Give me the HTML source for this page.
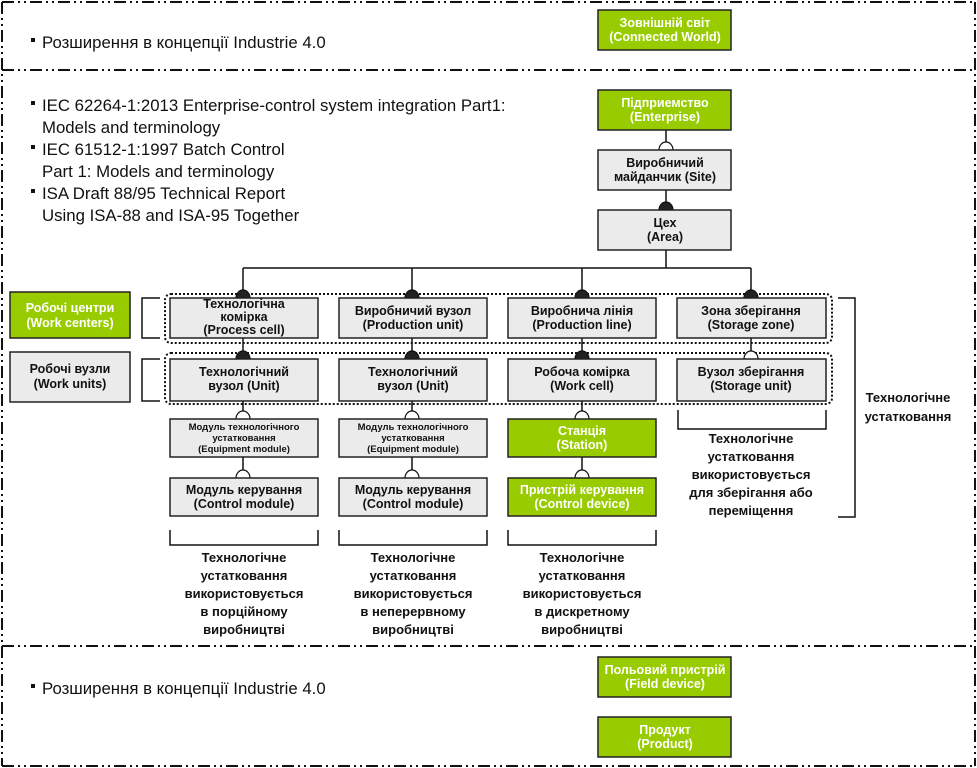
<!DOCTYPE html>
<html><head><meta charset="utf-8"><style>
body{margin:0;background:#fff}
svg{display:block}
text{font-family:"Liberation Sans Narrow","Liberation Sans","DejaVu Sans Condensed",sans-serif;fill:#111}
.b{font-size:12.5px;font-weight:bold;text-anchor:middle}
.w{fill:#fff}
.s{font-size:9.5px;font-weight:bold;text-anchor:middle}
.t{font-size:16.8px}
.n{font-size:13px;font-weight:bold;text-anchor:middle}
</style></head><body>
<svg width="977" height="768" viewBox="0 0 977 768" xmlns="http://www.w3.org/2000/svg">
<g stroke="#111" stroke-width="2" fill="none" stroke-dasharray="12 4 2 4 2 4">
<line x1="2" y1="2" x2="975" y2="2"/>
<line x1="2" y1="70" x2="975" y2="70"/>
<line x1="2" y1="646" x2="975" y2="646"/>
<line x1="2" y1="766" x2="975" y2="766"/>
<line x1="2" y1="2" x2="2" y2="766"/>
<line x1="975" y1="2" x2="975" y2="766"/>
</g>
<rect x="31" y="38" width="4" height="4" fill="#111"/><text x="42" y="48" class="t">Розширення в концепції Industrie 4.0</text>
<rect x="31" y="101" width="4" height="4" fill="#111"/><text x="42" y="111" class="t">IEC 62264-1:2013 Enterprise-control system integration Part1:</text>
<text x="42" y="133" class="t">Models and terminology</text>
<rect x="31" y="145" width="4" height="4" fill="#111"/><text x="42" y="155" class="t">IEC 61512-1:1997 Batch Control</text>
<text x="42" y="177" class="t">Part 1: Models and terminology</text>
<rect x="31" y="189" width="4" height="4" fill="#111"/><text x="42" y="199" class="t">ISA Draft 88/95 Technical Report</text>
<text x="42" y="221" class="t">Using ISA-88 and ISA-95 Together</text>
<rect x="31" y="684" width="4" height="4" fill="#111"/><text x="42" y="694" class="t">Розширення в концепції Industrie 4.0</text>
<g stroke="#111" stroke-width="1.5" fill="none">
<line x1="666" y1="130" x2="666" y2="150"/>
<line x1="666" y1="190" x2="666" y2="210"/>
<line x1="666" y1="250" x2="666" y2="268"/>
<line x1="243" y1="268" x2="751" y2="268"/>
<line x1="243" y1="268" x2="243" y2="298"/>
<line x1="412" y1="268" x2="412" y2="298"/>
<line x1="582" y1="268" x2="582" y2="298"/>
<line x1="751" y1="268" x2="751" y2="298"/>
<line x1="243" y1="338" x2="243" y2="359"/>
<line x1="412" y1="338" x2="412" y2="359"/>
<line x1="582" y1="338" x2="582" y2="359"/>
<line x1="751" y1="338" x2="751" y2="359"/>
<line x1="243" y1="401" x2="243" y2="478"/>
<line x1="412" y1="401" x2="412" y2="478"/>
<line x1="582" y1="401" x2="582" y2="478"/>
<polyline points="160,298 142,298 142,338 160,338"/>
<polyline points="160,359 142,359 142,401 160,401"/>
<polyline points="678,410 678,429 826,429 826,410"/>
<polyline points="838,298 855,298 855,517 838,517"/>
<polyline points="170,530 170,545 318,545 318,530"/>
<polyline points="339,530 339,545 487,545 487,530"/>
<polyline points="508,530 508,545 656,545 656,530"/>
</g>
<g stroke="#111" stroke-width="2" fill="none" stroke-dasharray="2 2">
<rect x="165" y="294" width="667" height="49" rx="6"/>
<rect x="165" y="353" width="667" height="51" rx="6"/>
</g>
<g fill="#222" stroke="#111" stroke-width="1.2">
<path d="M659,210 a7,8 0 0 1 14,0z"/>
<path d="M236,298 a7,8 0 0 1 14,0z"/>
<path d="M405,298 a7,8 0 0 1 14,0z"/>
<path d="M575,298 a7,8 0 0 1 14,0z"/>
<path d="M744,298 a7,8 0 0 1 14,0z"/>
<path d="M236,359 a7,8 0 0 1 14,0z"/>
<path d="M405,359 a7,8 0 0 1 14,0z"/>
<path d="M575,359 a7,8 0 0 1 14,0z"/>
</g>
<g fill="#fff" stroke="#111" stroke-width="1.2">
<path d="M659,150 a7,8 0 0 1 14,0"/>
<path d="M744,359 a7,8 0 0 1 14,0"/>
<path d="M236,419 a7,8 0 0 1 14,0"/>
<path d="M405,419 a7,8 0 0 1 14,0"/>
<path d="M575,419 a7,8 0 0 1 14,0"/>
<path d="M236,478 a7,8 0 0 1 14,0"/>
<path d="M405,478 a7,8 0 0 1 14,0"/>
<path d="M575,478 a7,8 0 0 1 14,0"/>
</g>
<g stroke="#222" stroke-width="1.5">
<rect x="598" y="10" width="133" height="40" fill="#99cc00"/>
<rect x="598" y="90" width="133" height="40" fill="#99cc00"/>
<rect x="598" y="150" width="133" height="40" fill="#ebebeb"/>
<rect x="598" y="210" width="133" height="40" fill="#ebebeb"/>
<rect x="10" y="292" width="120" height="46" fill="#99cc00"/>
<rect x="10" y="352" width="120" height="50" fill="#ebebeb"/>
<rect x="170" y="298" width="148" height="40" fill="#ebebeb"/>
<rect x="339" y="298" width="148" height="40" fill="#ebebeb"/>
<rect x="508" y="298" width="148" height="40" fill="#ebebeb"/>
<rect x="677" y="298" width="149" height="40" fill="#ebebeb"/>
<rect x="170" y="359" width="148" height="42" fill="#ebebeb"/>
<rect x="339" y="359" width="148" height="42" fill="#ebebeb"/>
<rect x="508" y="359" width="148" height="42" fill="#ebebeb"/>
<rect x="677" y="359" width="149" height="42" fill="#ebebeb"/>
<rect x="170" y="419" width="148" height="38" fill="#ebebeb"/>
<rect x="339" y="419" width="148" height="38" fill="#ebebeb"/>
<rect x="508" y="419" width="148" height="38" fill="#99cc00"/>
<rect x="170" y="478" width="148" height="38" fill="#ebebeb"/>
<rect x="339" y="478" width="148" height="38" fill="#ebebeb"/>
<rect x="508" y="478" width="148" height="38" fill="#99cc00"/>
<rect x="598" y="657" width="133" height="40" fill="#99cc00"/>
<rect x="598" y="717" width="133" height="40" fill="#99cc00"/>
</g>
<text class="b w" x="665" y="27">Зовнішній світ</text><text class="b w" x="665" y="41">(Connected World)</text>
<text class="b w" x="665" y="107">Підприемство</text><text class="b w" x="665" y="121">(Enterprise)</text>
<text class="b" x="665" y="167">Виробничий</text><text class="b" x="665" y="181">майданчик (Site)</text>
<text class="b" x="665" y="227">Цех</text><text class="b" x="665" y="241">(Area)</text>
<text class="b w" x="70" y="312">Робочі центри</text><text class="b w" x="70" y="327">(Work centers)</text>
<text class="b" x="70" y="373">Робочі вузли</text><text class="b" x="70" y="388">(Work units)</text>
<text class="b" x="244" y="308">Технологічна</text><text class="b" x="244" y="321">комірка</text><text class="b" x="244" y="334">(Process cell)</text>
<text class="b" x="413" y="315">Виробничий вузол</text><text class="b" x="413" y="329">(Production unit)</text>
<text class="b" x="582" y="315">Виробнича лінія</text><text class="b" x="582" y="329">(Production line)</text>
<text class="b" x="751" y="315">Зона зберігання</text><text class="b" x="751" y="329">(Storage zone)</text>
<text class="b" x="244" y="376">Технологічний</text><text class="b" x="244" y="390">вузол (Unit)</text>
<text class="b" x="413" y="376">Технологічний</text><text class="b" x="413" y="390">вузол (Unit)</text>
<text class="b" x="582" y="376">Робоча комірка</text><text class="b" x="582" y="390">(Work cell)</text>
<text class="b" x="751" y="376">Вузол зберігання</text><text class="b" x="751" y="390">(Storage unit)</text>
<text class="s" x="244" y="430">Модуль технологічного</text><text class="s" x="244" y="441">устатковання</text><text class="s" x="244" y="452">(Equipment module)</text>
<text class="s" x="413" y="430">Модуль технологічного</text><text class="s" x="413" y="441">устатковання</text><text class="s" x="413" y="452">(Equipment module)</text>
<text class="b w" x="582" y="435">Станція</text><text class="b w" x="582" y="449">(Station)</text>
<text class="b" x="244" y="494">Модуль керування</text><text class="b" x="244" y="508">(Control module)</text>
<text class="b" x="413" y="494">Модуль керування</text><text class="b" x="413" y="508">(Control module)</text>
<text class="b w" x="582" y="494">Пристрій керування</text><text class="b w" x="582" y="508">(Control device)</text>
<text class="b w" x="665" y="674">Польовий пристрій</text><text class="b w" x="665" y="688">(Field device)</text>
<text class="b w" x="665" y="734">Продукт</text><text class="b w" x="665" y="748">(Product)</text>
<g class="n">
<text x="751" y="443">Технологічне</text><text x="751" y="461">устатковання</text><text x="751" y="479">використовується</text><text x="751" y="497">для зберігання або</text><text x="751" y="515">переміщення</text>
<text x="908" y="402">Технологічне</text><text x="908" y="421">устатковання</text>
<text x="244" y="562">Технологічне</text><text x="244" y="580">устатковання</text><text x="244" y="598">використовується</text><text x="244" y="616">в порційному</text><text x="244" y="634">виробництві</text>
<text x="413" y="562">Технологічне</text><text x="413" y="580">устатковання</text><text x="413" y="598">використовується</text><text x="413" y="616">в неперервному</text><text x="413" y="634">виробництві</text>
<text x="582" y="562">Технологічне</text><text x="582" y="580">устатковання</text><text x="582" y="598">використовується</text><text x="582" y="616">в дискретному</text><text x="582" y="634">виробництві</text>
</g>
</svg>
</body></html>
